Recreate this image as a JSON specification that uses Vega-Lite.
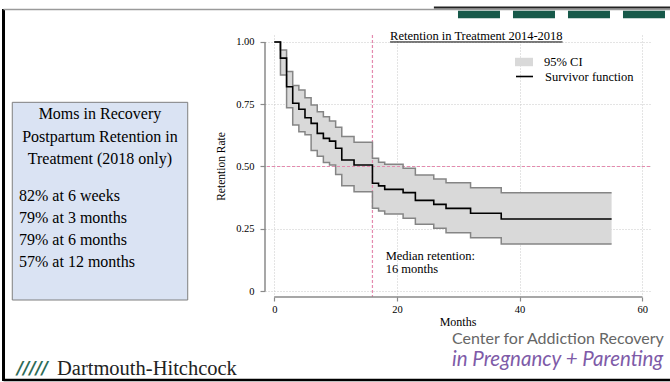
{
  "$schema": "https://vega.github.io/schema/vega-lite/v6.json",
  "width": 385,
  "height": 262,
  "autosize": "none",
  "padding": {"left": 265, "top": 35, "right": 20, "bottom": 85},
  "background": "white",
  "config": {"view": {"stroke": null}, "font": "Liberation Serif"},
  "datasets": {
    "km": [
      {"month": 0, "surv": 1.0, "lo": 1.0, "hi": 1.0},
      {"month": 1, "surv": 0.935, "lo": 0.867, "hi": 0.968},
      {"month": 2, "surv": 0.82, "lo": 0.736, "hi": 0.881},
      {"month": 3, "surv": 0.754, "lo": 0.667, "hi": 0.825},
      {"month": 4, "surv": 0.73, "lo": 0.64, "hi": 0.807},
      {"month": 5, "surv": 0.696, "lo": 0.627, "hi": 0.776},
      {"month": 6, "surv": 0.673, "lo": 0.564, "hi": 0.747},
      {"month": 7, "surv": 0.633, "lo": 0.541, "hi": 0.72},
      {"month": 8, "surv": 0.613, "lo": 0.516, "hi": 0.7},
      {"month": 9, "surv": 0.602, "lo": 0.506, "hi": 0.683},
      {"month": 10, "surv": 0.573, "lo": 0.468, "hi": 0.658},
      {"month": 11, "surv": 0.526, "lo": 0.423, "hi": 0.62},
      {"month": 13, "surv": 0.506, "lo": 0.399, "hi": 0.597},
      {"month": 16, "surv": 0.433, "lo": 0.332, "hi": 0.533},
      {"month": 17, "surv": 0.422, "lo": 0.321, "hi": 0.517},
      {"month": 18, "surv": 0.408, "lo": 0.309, "hi": 0.509},
      {"month": 21, "surv": 0.395, "lo": 0.292, "hi": 0.493},
      {"month": 23, "surv": 0.364, "lo": 0.268, "hi": 0.466},
      {"month": 26, "surv": 0.348, "lo": 0.252, "hi": 0.45},
      {"month": 28, "surv": 0.332, "lo": 0.234, "hi": 0.435},
      {"month": 32, "surv": 0.312, "lo": 0.214, "hi": 0.415},
      {"month": 37, "surv": 0.289, "lo": 0.189, "hi": 0.395},
      {"month": 55, "surv": 0.289, "lo": 0.189, "hi": 0.395}
    ]
  },
  "layer": [
    {
      "data": {"name": "km"},
      "mark": {"type": "area", "interpolate": "step-after", "opacity": 1},
      "encoding": {
        "x": {
          "field": "month", "type": "quantitative",
          "scale": {"domain": [-1.52, 61.26], "nice": false, "zero": false},
          "axis": {
            "title": "Months", "values": [0, 20, 40, 60], "domain": false,
            "tickSize": 4, "tickColor": "#8a8a8a", "tickWidth": 1.2,
            "labelFont": "Liberation Serif", "labelFontSize": 10.5, "labelColor": "#000", "labelPadding": 3, "labelFlush": false,
            "titleFont": "Liberation Serif", "titleFontSize": 12, "titleFontWeight": "normal", "titleColor": "#000", "titlePadding": 2,
            "grid": true, "gridColor": "#c8c8c8", "gridDash": [1, 2], "gridWidth": 1
          }
        },
        "y": {
          "field": "lo", "type": "quantitative",
          "scale": {"domain": [-0.024, 1.028], "nice": false, "zero": false},
          "axis": {
            "title": "Retention Rate", "values": [0, 0.25, 0.5, 0.75, 1], "domain": false,
            "labelExpr": "datum.value == 0 ? '0' : format(datum.value, '.2f')",
            "tickSize": 5, "tickColor": "#8a8a8a", "tickWidth": 1.2,
            "labelFont": "Liberation Serif", "labelFontSize": 10.5, "labelColor": "#000", "labelPadding": 6, "labelFlush": false,
            "titleFont": "Liberation Serif", "titleFontSize": 11.5, "titleFontWeight": "normal", "titleColor": "#000", "titlePadding": 9,
            "grid": true, "gridColor": "#c8c8c8", "gridDash": [1, 2], "gridWidth": 1
          }
        },
        "y2": {"field": "hi"},
        "fill": {
          "datum": "95% CI",
          "scale": {"domain": ["95% CI"], "range": ["#d9d9d9"]},
          "legend": {
            "orient": "none", "legendX": 250, "legendY": 18, "title": null, "padding": 0,
            "symbolType": "M-1,-0.47H1V0.47H-1Z", "symbolSize": 324, "symbolStrokeWidth": 0, "symbolOpacity": 1,
            "labelFont": "Liberation Serif", "labelFontSize": 12.5, "labelColor": "#000", "labelOffset": 11
          }
        }
      }
    },
    {
      "data": {"values": [{}]},
      "mark": {"type": "rule", "stroke": "#e48aae", "strokeWidth": 1.2, "strokeDash": [3, 2]},
      "encoding": {"y": {"datum": 0.5}}
    },
    {
      "data": {"values": [{}]},
      "mark": {"type": "rule", "stroke": "#e48aae", "strokeWidth": 1.2, "strokeDash": [3, 2]},
      "encoding": {"x": {"datum": 16}}
    },
    {
      "data": {"name": "km"},
      "mark": {"type": "line", "interpolate": "step-after", "stroke": "#858585", "strokeWidth": 1.5},
      "encoding": {"x": {"field": "month", "type": "quantitative"}, "y": {"field": "lo", "type": "quantitative"}}
    },
    {
      "data": {"name": "km"},
      "mark": {"type": "line", "interpolate": "step-after", "stroke": "#858585", "strokeWidth": 1.5},
      "encoding": {"x": {"field": "month", "type": "quantitative"}, "y": {"field": "hi", "type": "quantitative"}}
    },
    {
      "data": {"name": "km"},
      "mark": {"type": "line", "interpolate": "step-after", "strokeWidth": 1.6},
      "encoding": {
        "x": {"field": "month", "type": "quantitative"},
        "y": {"field": "surv", "type": "quantitative"},
        "stroke": {
          "datum": "Survivor function",
          "scale": {"domain": ["Survivor function"], "range": ["#000000"]},
          "legend": {
            "orient": "none", "legendX": 250, "legendY": 32, "title": null, "padding": 0,
            "symbolType": "stroke", "symbolSize": 289, "symbolStrokeWidth": 1.6,
            "labelFont": "Liberation Serif", "labelFontSize": 12.5, "labelColor": "#000", "labelOffset": 11
          }
        }
      }
    },
    {
      "data": {"values": [{}]},
      "mark": {"type": "rule", "stroke": "#8a8a8a", "strokeWidth": 1.5},
      "encoding": {"x": {"datum": -1.52}, "y": {"datum": 0}, "y2": {"datum": 1}}
    },
    {
      "data": {"values": [{}]},
      "mark": {"type": "rule", "stroke": "#8a8a8a", "strokeWidth": 1.5},
      "encoding": {"y": {"datum": -0.024}, "x": {"datum": 0}, "x2": {"datum": 60}}
    },
    {
      "data": {"values": [{}]},
      "mark": {"type": "text", "text": "Retention in Treatment 2014-2018", "font": "Liberation Serif", "fontSize": 12.5, "align": "center", "baseline": "alphabetic", "color": "#000"},
      "encoding": {"x": {"datum": 32.94}, "y": {"datum": 1.0068}}
    },
    {
      "data": {"values": [{}]},
      "mark": {"type": "rule", "stroke": "#000", "strokeWidth": 1},
      "encoding": {"x": {"datum": 18.87}, "x2": {"datum": 47.0}, "y": {"datum": 1.0}}
    },
    {
      "data": {"values": [{}]},
      "mark": {"type": "text", "text": ["Median retention:", "16 months"], "font": "Liberation Serif", "fontSize": 12.5, "lineHeight": 13, "align": "left", "baseline": "alphabetic", "color": "#000"},
      "encoding": {"x": {"datum": 18.16}, "y": {"datum": 0.1245}}
    },
    {
      "data": {"values": [{}]},
      "mark": {"type": "rect", "fill": "#dae3f3", "stroke": "#7f7f7f", "strokeWidth": 1},
      "encoding": {"x": {"datum": -42.73}, "x2": {"datum": -14.12}, "y": {"datum": 0.7577}, "y2": {"datum": -0.0361}}
    },
    {
      "data": {"values": [{}]},
      "mark": {"type": "text", "text": ["Moms in Recovery", "Postpartum Retention in", "Treatment (2018 only)"], "font": "Liberation Serif", "fontSize": 16, "lineHeight": 22.4, "align": "center", "baseline": "alphabetic", "color": "#000"},
      "encoding": {"x": {"datum": -28.43}, "y": {"datum": 0.6894}}
    },
    {
      "data": {"values": [{}]},
      "mark": {"type": "text", "text": ["82% at 6 weeks", "79% at 3 months", "79% at 6 months", "57% at 12 months"], "font": "Liberation Serif", "fontSize": 16, "lineHeight": 21.9, "align": "left", "baseline": "alphabetic", "color": "#000"},
      "encoding": {"x": {"datum": -41.63}, "y": {"datum": 0.3614}}
    },
    {
      "data": {"values": [{}]},
      "mark": {"type": "text", "text": "Dartmouth-Hitchcock", "font": "Liberation Serif", "fontSize": 20.5, "align": "left", "baseline": "alphabetic", "color": "#222"},
      "encoding": {"x": {"datum": -35.44}, "y": {"datum": -0.3353}}
    },
    {
      "data": {"values": [{}]},
      "mark": {"type": "text", "text": "/////", "font": "DejaVu Sans", "fontWeight": "bold", "fontStyle": "italic", "fontSize": 17, "align": "left", "baseline": "alphabetic", "color": "#2e6b57"},
      "encoding": {"x": {"datum": -41.96}, "y": {"datum": -0.3313}}
    },
    {
      "data": {"values": [{}]},
      "mark": {"type": "text", "text": "Center for Addiction Recovery", "font": "Lato", "fontSize": 16, "align": "left", "baseline": "alphabetic", "color": "#666"},
      "encoding": {"x": {"datum": 28.97}, "y": {"datum": -0.2128}}
    },
    {
      "data": {"values": [{}]},
      "mark": {"type": "text", "text": "in Pregnancy + Parenting", "font": "Lato", "fontStyle": "italic", "fontSize": 20.5, "align": "left", "baseline": "alphabetic", "color": "#7e5ba8"},
      "encoding": {"x": {"datum": 28.97}, "y": {"datum": -0.3011}}
    },
    {
      "data": {"values": [{}]},
      "mark": {"type": "rule", "stroke": "#000", "strokeWidth": 3},
      "encoding": {"x": {"datum": -44.16}, "y": {"datum": 1.1323}, "y2": {"datum": -0.3614}}
    },
    {
      "data": {"values": [{}]},
      "mark": {"type": "rule", "stroke": "#9a9a9a", "strokeWidth": 1.5},
      "encoding": {"x": {"datum": -44.16}, "x2": {"datum": 64.52}, "y": {"datum": 1.1303}}
    },
    {
      "data": {"values": [{}]},
      "mark": {"type": "rule", "stroke": "#222", "strokeWidth": 2},
      "encoding": {"x": {"datum": 26.02}, "x2": {"datum": 64.52}, "y": {"datum": 1.1383}}
    },
    {
      "data": {"values": [{}]},
      "mark": {"type": "rule", "stroke": "#17594a", "strokeWidth": 7.5, "strokeDash": [42, 13]},
      "encoding": {"x": {"datum": 29.95}, "x2": {"datum": 64.52}, "y": {"datum": 1.1102}}
    },
    {
      "data": {"values": [{}]},
      "mark": {"type": "rule", "stroke": "#000", "strokeWidth": 2.5},
      "encoding": {"x": {"datum": -44.16}, "x2": {"datum": 64.52}, "y": {"datum": -0.3574}}
    }
  ]
}
